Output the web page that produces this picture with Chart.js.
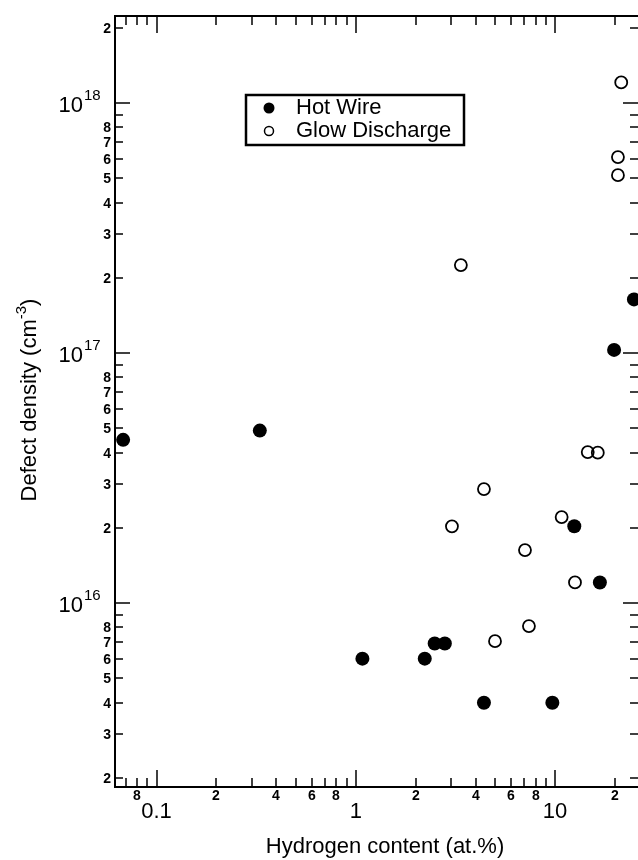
<!DOCTYPE html>
<html lang="en">
<head>
  <meta charset="UTF-8">
  <title>Defect density vs hydrogen content</title>
  <style>
    body {
      margin: 0;
      background: #fff;
    }

    #chart-container {
      position: relative;
      width: 638px;
      height: 860px;
    }
  </style>
</head>
<body>
  <div id="chart-container">
    <canvas id="scatterChart"></canvas>
  </div>

  <script src="https://cdn.jsdelivr.net/npm/chart.js"></script>
  <script>
    // Hot Wire samples (filled dots)
    const hotWireH = [0.068, 0.33, 1.08, 2.22, 2.49, 2.8, 4.4, 9.7, 12.5, 16.8, 19.8, 24.9];
    const hotWireDefects = [4.5e16, 4.9e16, 6.0e15, 6.0e15, 6.9e15, 6.9e15, 4.0e15, 4.0e15, 2.03e16, 1.21e16, 1.03e17, 1.64e17];

    // Glow Discharge samples (open circles)
    const glowH = [3.37, 4.4, 3.04, 5.0, 7.4, 7.07, 10.8, 12.6, 14.6, 16.4, 20.7, 20.7, 21.5];
    const glowDefects = [2.25e17, 2.86e16, 2.03e16, 7.05e15, 8.1e15, 1.63e16, 2.21e16, 1.21e16, 4.02e16, 4.0e16, 6.08e17, 5.15e17, 1.21e18];

    // axis ranges and tick labels
    const xRange = [0.0619, 26.1];
    const yRange = [1.84e15, 2.23e18];
    const xMajor = [0.1, 1, 10];
    const xMajorLabels = ['0.1', '1', '10'];
    const xMinorLabeled = [2, 4, 6, 8];
    const yMajorExp = [16, 17, 18];
    const yMinorLabeled = [2, 3, 4, 5, 6, 7, 8];

    const FONT = '"Liberation Sans", Arial, Helvetica, sans-serif';

    function decadeValues(min, max) {
      const vals = [];
      for (let e = Math.floor(Math.log10(min)); e <= Math.ceil(Math.log10(max)); e++) {
        for (let m = 1; m <= 9; m++) {
          const v = m * Math.pow(10, e);
          if (v >= min && v <= max) vals.push({ v: v, m: m, e: e });
        }
      }
      return vals;
    }

    function line(ctx, x1, y1, x2, y2) {
      ctx.beginPath();
      ctx.moveTo(x1, y1);
      ctx.lineTo(x2, y2);
      ctx.stroke();
    }

    // frame, inward ticks and tick labels
    const axesPlugin = {
      id: 'axesPlugin',
      beforeDatasetsDraw(chart) {
        const { ctx, chartArea: a, scales: { x, y } } = chart;
        ctx.save();
        ctx.strokeStyle = '#000';
        ctx.fillStyle = '#000';
        ctx.lineWidth = 2;
        // right border sits just past the page edge, like the scan
        ctx.beginPath();
        ctx.moveTo(a.right + 2, a.top);
        ctx.lineTo(a.left, a.top);
        ctx.lineTo(a.left, a.bottom);
        ctx.lineTo(a.right + 2, a.bottom);
        ctx.stroke();

        ctx.lineWidth = 1.5;
        decadeValues(x.min, x.max).forEach(t => {
          const px = Math.round(x.getPixelForValue(t.v));
          const len = t.m === 1 ? 17 : 9;
          line(ctx, px, a.bottom, px, a.bottom - len);
          line(ctx, px, a.top, px, a.top + len);
          if (xMinorLabeled.includes(t.m)) {
            ctx.font = 'bold 14px ' + FONT;
            ctx.textAlign = 'center';
            ctx.textBaseline = 'middle';
            ctx.fillText(String(t.m), px, a.bottom + 9);
          }
        });
        ctx.font = '22px ' + FONT;
        ctx.textAlign = 'center';
        ctx.textBaseline = 'middle';
        xMajor.forEach((v, i) => {
          ctx.fillText(xMajorLabels[i], x.getPixelForValue(v), a.bottom + 25);
        });

        decadeValues(y.min, y.max).forEach(t => {
          const py = Math.round(y.getPixelForValue(t.v));
          const len = t.m === 1 ? 15 : 8;
          line(ctx, a.left, py, a.left + len, py);
          line(ctx, a.right, py, a.right - len, py);
          if (yMinorLabeled.includes(t.m)) {
            ctx.font = 'bold 14px ' + FONT;
            ctx.textAlign = 'right';
            ctx.textBaseline = 'middle';
            ctx.fillText(String(t.m), a.left - 4, py + 1);
          }
        });
        yMajorExp.forEach(e => {
          const py = y.getPixelForValue(Math.pow(10, e));
          ctx.font = '22px ' + FONT;
          ctx.textAlign = 'right';
          ctx.textBaseline = 'middle';
          ctx.fillText('10', 83, py + 3);
          ctx.font = '15px ' + FONT;
          ctx.textAlign = 'left';
          ctx.fillText(String(e), 84, py - 7);
        });

        // axis titles
        ctx.font = '22px ' + FONT;
        ctx.textAlign = 'center';
        ctx.textBaseline = 'middle';
        ctx.fillText('Hydrogen content (at.%)', 385, 847);

        ctx.translate(30, 400);
        ctx.rotate(-Math.PI / 2);
        const main = 'Defect density (cm';
        ctx.font = '22px ' + FONT;
        const w1 = ctx.measureText(main).width;
        const w3 = ctx.measureText(')').width;
        ctx.font = '15px ' + FONT;
        const w2 = ctx.measureText('-3').width;
        let start = -(w1 + w2 + w3) / 2;
        ctx.textAlign = 'left';
        ctx.font = '22px ' + FONT;
        ctx.fillText(main, start, 0);
        ctx.font = '15px ' + FONT;
        ctx.fillText('-3', start + w1, -8);
        ctx.font = '22px ' + FONT;
        ctx.fillText(')', start + w1 + w2, 0);
        ctx.restore();
      }
    };

    // boxed legend inside the plot
    const legendPlugin = {
      id: 'legendPlugin',
      afterDraw(chart) {
        const ctx = chart.ctx;
        ctx.save();
        ctx.strokeStyle = '#000';
        ctx.lineWidth = 2.5;
        ctx.strokeRect(246, 95, 218, 50);

        ctx.fillStyle = '#000';
        ctx.beginPath();
        ctx.arc(269, 108, 5.5, 0, Math.PI * 2);
        ctx.fill();
        ctx.lineWidth = 1.5;
        ctx.beginPath();
        ctx.arc(269, 131, 4.5, 0, Math.PI * 2);
        ctx.stroke();

        ctx.font = '22px ' + FONT;
        ctx.textAlign = 'left';
        ctx.textBaseline = 'middle';
        ctx.fillText(chart.data.datasets[0].label, 296, 108);
        ctx.fillText(chart.data.datasets[1].label, 296, 131);
        ctx.restore();
      }
    };

    new Chart(document.getElementById('scatterChart'), {
      type: 'scatter',
      data: {
        datasets: [{
          label: 'Hot Wire',
          data: hotWireH.map((h, i) => ({ x: h, y: hotWireDefects[i] })),
          pointRadius: 7,
          pointBackgroundColor: '#000',
          pointBorderColor: '#000',
          pointBorderWidth: 0,
          clip: false
        },
        {
          label: 'Glow Discharge',
          data: glowH.map((h, i) => ({ x: h, y: glowDefects[i] })),
          pointRadius: 6,
          pointBackgroundColor: 'rgba(0,0,0,0)',
          pointBorderColor: '#000',
          pointBorderWidth: 1.8,
          clip: false
        }]
      },
      options: {
        responsive: true,
        maintainAspectRatio: false,
        animation: false,
        layout: {
          autoPadding: false,
          padding: { left: 115, top: 16, right: 0, bottom: 73 }
        },
        plugins: {
          legend: { display: false },
          tooltip: { enabled: false }
        },
        scales: {
          x: { type: 'logarithmic', min: xRange[0], max: xRange[1], display: false },
          y: { type: 'logarithmic', min: yRange[0], max: yRange[1], display: false }
        }
      },
      plugins: [axesPlugin, legendPlugin]
    });
  </script>
</body>
</html>
